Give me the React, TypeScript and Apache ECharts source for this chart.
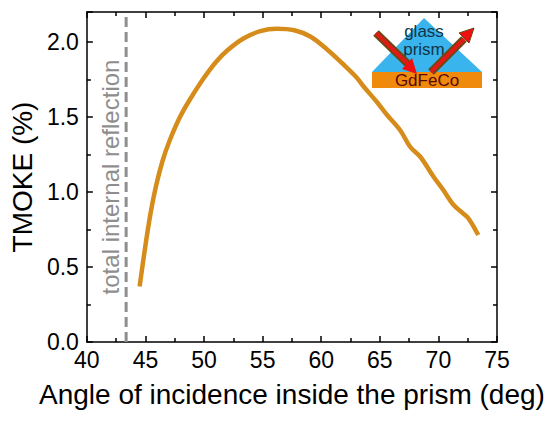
import React, { useEffect, useRef } from "react";
import * as echarts from "echarts";

const angles = [44.5, 45.0, 45.45, 45.9, 46.45, 47.0, 47.85, 48.7, 49.85, 51.0, 52.0, 53.4, 54.8, 56.2, 57.7, 59.1, 60.5, 61.9, 63.0, 63.6, 64.75, 65.6, 66.75, 67.6, 68.45, 69.6, 70.4, 71.3, 72.1, 72.6, 73.4];
const tmoke = [0.37, 0.645, 0.865, 1.04, 1.205, 1.33, 1.485, 1.605, 1.745, 1.865, 1.945, 2.025, 2.072, 2.088, 2.078, 2.035, 1.95, 1.85, 1.765, 1.705, 1.6, 1.515, 1.41, 1.3, 1.235, 1.1, 1.015, 0.913, 0.858, 0.82, 0.713];
const tirAngle = [43.35, 43.35];
const tirLevel = [0, 2.2];

const xTitle = "Angle of incidence inside the prism (deg)";
const yTitle = "TMOKE (%)";
const tirText = "total internal reflection";

const FONT = "Liberation Sans, Arial, sans-serif";

export default function App() {
  const ref = useRef<HTMLDivElement>(null);
  useEffect(() => {
    if (!ref.current) return;
    const chart = echarts.init(ref.current, null, { renderer: "svg" });
    const axisCommon = {
      axisLine: { show: true, onZero: false, lineStyle: { color: "#000", width: 1.5 } },
      axisTick: { show: true, inside: true, length: 6, lineStyle: { color: "#000", width: 1.5 } },
      minorTick: { show: true, splitNumber: 2, length: 4, lineStyle: { color: "#000", width: 1.5 } },
      splitLine: { show: false },
    };
    chart.setOption({
      animation: false,
      backgroundColor: "#fff",
      grid: { left: 86, right: 53, top: 12, bottom: 83 },
      xAxis: [
        {
          type: "value",
          min: 40,
          max: 75,
          interval: 5,
          position: "bottom",
          ...axisCommon,
          axisLabel: { color: "#000", fontSize: 23, fontFamily: FONT, margin: 6 },
          name: xTitle,
          nameLocation: "middle",
          nameGap: 38,
          nameTextStyle: { color: "#000", fontSize: 28, fontFamily: FONT },
        },
        {
          type: "value",
          min: 40,
          max: 75,
          interval: 5,
          position: "top",
          ...axisCommon,
          axisLabel: { show: false },
        },
      ],
      yAxis: [
        {
          type: "value",
          min: 0,
          max: 2.2,
          interval: 0.5,
          position: "left",
          ...axisCommon,
          axisLabel: {
            color: "#000",
            fontSize: 23,
            fontFamily: FONT,
            margin: 8,
            formatter: (v: number) => (v > 2.1 ? "" : v.toFixed(1)),
          },
          name: yTitle,
          nameLocation: "middle",
          nameGap: 46,
          nameTextStyle: { color: "#000", fontSize: 28, fontFamily: FONT },
        },
        {
          type: "value",
          min: 0,
          max: 2.2,
          interval: 0.5,
          position: "right",
          ...axisCommon,
          axisLabel: { show: false },
        },
      ],
      series: [
        {
          type: "line",
          data: tirAngle.map((a, i) => [a, tirLevel[i]]),
          symbol: "none",
          lineStyle: { color: "#8e8e8e", width: 3, type: [10, 5] },
          z: 1,
        },
        {
          type: "line",
          data: angles.map((a, i) => [a, tmoke[i]]),
          symbol: "none",
          smooth: 0.35,
          lineStyle: { color: "#d68c1a", width: 4.5 },
          z: 2,
        },
      ],
      graphic: [
        {
          type: "text",
          x: 110,
          y: 177,
          rotation: Math.PI / 2,
          style: {
            text: tirText,
            fill: "#8e8e8e",
            font: `24px ${FONT}`,
            align: "center",
            verticalAlign: "middle",
          },
        },
        {
          type: "polygon",
          shape: { points: [[424, 18], [372, 72], [482, 72]] },
          style: { fill: "#3ab4ec" },
        },
        {
          type: "rect",
          shape: { x: 372, y: 72, width: 110, height: 16 },
          style: { fill: "#ef8a0c" },
        },
        {
          type: "text",
          x: 424,
          y: 31,
          style: { text: "glass", fill: "#0f3448", font: `17px ${FONT}`, align: "center", verticalAlign: "middle" },
        },
        {
          type: "text",
          x: 424,
          y: 49.5,
          style: { text: "prism", fill: "#0f3448", font: `17px ${FONT}`, align: "center", verticalAlign: "middle" },
        },
        {
          type: "text",
          x: 427,
          y: 80.5,
          style: { text: "GdFeCo", fill: "#5a0808", font: `17px ${FONT}`, align: "center", verticalAlign: "middle" },
        },
        {
          type: "line",
          shape: { x1: 376, y1: 33, x2: 410, y2: 66 },
          style: { stroke: "#6a4a14", lineWidth: 8 },
        },
        {
          type: "line",
          shape: { x1: 376, y1: 33, x2: 410, y2: 66 },
          style: { stroke: "#e01a14", lineWidth: 4 },
        },
        {
          type: "polygon",
          shape: { points: [[417, 74], [402, 69], [412, 58]] },
          style: { fill: "#ee1010" },
        },
        {
          type: "line",
          shape: { x1: 431, y1: 72, x2: 464, y2: 39 },
          style: { stroke: "#6a4a14", lineWidth: 8 },
        },
        {
          type: "line",
          shape: { x1: 431, y1: 72, x2: 464, y2: 39 },
          style: { stroke: "#e01a14", lineWidth: 4 },
        },
        {
          type: "polygon",
          shape: { points: [[474, 28], [459, 33], [469, 43]] },
          style: { fill: "#ee1010", stroke: "#6a4a14", lineWidth: 1 },
        },
      ],
    });
    return () => chart.dispose();
  }, []);
  return (
    <div
      ref={ref}
      style={{ position: "fixed", left: 0, top: 0, width: 550, height: 425 }}
    />
  );
}
